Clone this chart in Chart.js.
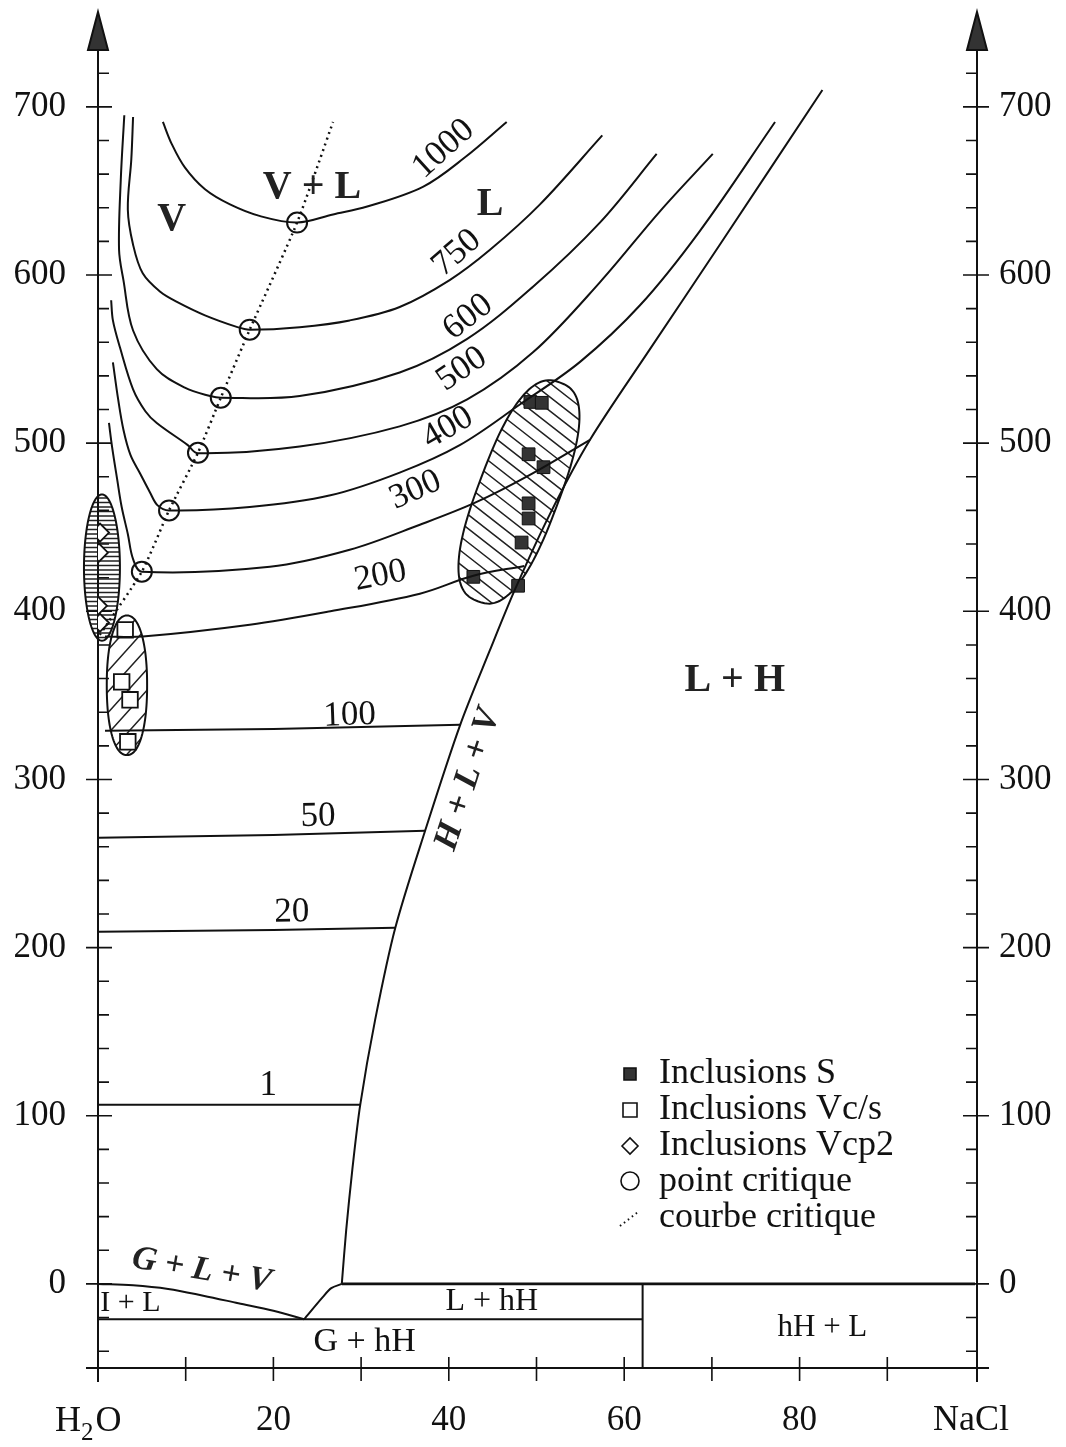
<!DOCTYPE html>
<html>
<head>
<meta charset="utf-8">
<script src="https://cdn.jsdelivr.net/npm/chart.js@4/dist/chart.umd.min.js"></script>
<style>
  html, body { margin: 0; padding: 0; background: #fff; }
  canvas { display: block; }
</style>
</head>
<body>
<canvas id="phase" width="1066" height="1447"></canvas>
<script>
/* H2O - NaCl : isobares (bar), x = % pds NaCl, y = T (°C) */

const iso1000 = [[7.4,691],[8.4,678],[9.9,664],[12.2,651],[15.05,642],[18.5,635],[22.7,631.2],[26.8,636],[30.7,640.7],[37.1,652.6],[41.85,670],[46.6,691]];
const iso750 = [[4.0,694],[3.8,669],[3.4,639],[4.0,618],[5.1,601],[7.1,590],[9.0,584],[12.2,576],[15.9,569],[17.3,567.5],[23.0,569],[28.7,573],[34.4,581],[40.1,597],[44.7,615],[50.4,642],[57.5,683]];
const iso600 = [[3.0,695],[2.6,657],[2.4,615],[2.9,597],[4.0,567],[6.7,544],[9.9,533],[12.8,528],[14.0,527],[23.0,528],[34.4,542],[42.1,562],[49.6,593],[57.2,631],[63.7,672]];
const iso500 = [[1.5,585],[1.7,573],[2.5,557],[4.0,532],[5.4,519],[6.7,512],[10.2,499],[11.4,494],[23.0,498],[34.4,510],[42.1,526],[49.6,554],[57.2,595.5],[64.1,638],[70.1,672]];
const iso400 = [[1.7,548],[2.3,526],[2.9,508],[3.7,493],[4.8,482],[5.9,471],[6.8,463],[8.1,460],[17.3,462],[26.5,469],[34.4,482.5],[41.3,499],[48.1,523],[55.0,548.5],[61.8,582],[68.6,626],[77.2,691]];
const iso300 = [[1.25,512],[1.6,498],[2.2,478],[2.7,462],[3.4,446],[4.0,431],[5.0,423.6],[19.6,426.5],[28.7,436.6],[36.7,451.5],[43.0,464.6],[49.3,481.3],[56.1,502]];
const iso200 = [[0.8,385],[5.1,385],[17.3,392],[26.5,400],[36.7,410.5],[42.7,421],[48.6,427]];
const iso100 = [[0.8,329],[20.0,330],[41.3,332.5]];
const iso50 = [[0.1,265.3],[20.0,267],[37.3,269.5]];
const iso20 = [[0.1,209.4],[20.0,210.5],[33.9,211.8]];
const iso1 = [[0.1,106.5],[29.9,106.5]];

// courbe H + L + V (liquidus de la halite)
const liquidus = [[27.8,0],[28.3,32],[29.0,68],[29.9,106.5],[31.6,157],[33.9,211.8],[37.3,269.5],[41.3,332.5],[44.7,377],[47.55,413],[51.5,457.5],[56.1,502],[62.9,555.6],[70.9,618],[82.6,710]];

// équilibres de basse température
const glv = [[0,0],[4,-0.8],[8,-3],[12,-7],[16,-11.5],[20,-16],[23.5,-21]];
const hydrohalite = [[23.5,-21],[25.6,-8],[26.6,-2.5],[27.8,0]];
const eutectic = [[0,-21],[62.1,-21]];
const peritectic = [[27.8,0],[100,0]];
const hhVertical = [[62.1,0],[62.1,-50]];

// points critiques et courbe critique
const critPoints = [[5.0,423.6],[8.1,460],[11.4,494.3],[14.0,527],[17.3,567.5],[22.7,631.2]];
const critCurve = [[0.2,386],[5.0,423.6],[8.1,460],[11.4,494.3],[14.0,527],[17.3,567.5],[22.7,631.2],[26.8,691]];

// inclusions fluides
const inclS = [[49.3,524.5],[50.6,524],[49.1,493.4],[50.8,485.7],[49.1,464.2],[49.1,455.2],[48.3,440.9],[42.8,420.5],[47.9,415.2]];
const inclVcs = [[3.1,389],[2.7,358],[3.65,347.4],[3.4,322.4]];
const inclVcp2 = [[0.23,446.8],[0.11,434.9],[0.0,403.3],[0.23,393.2]];

// champs des inclusions : [x centre, y centre, demi-largeur (wt%), demi-hauteur (°C)]
const fieldVcp2 = [0.45, 426, 2.05, 43.5];
const fieldVcs = [3.3, 356, 2.3, 41.5];
// champ S incliné : extrémités de l'axe long puis demi-largeur (wt%)
const fieldS = [[52.7,536],[43.3,406],4.6];

// étiquettes
const isoLabels = [['1000',39.4,675,-42],['750',40.9,613,-41],['600',42.2,575,-38],['500',41.5,544,-34],['400',39.9,509,-30],['300',36.2,472,-24],['200',32.2,421,-11],['100',28.7,338,-2],['50',25.1,278,-1],['20',22.1,221,-1],['1',19.4,118,0]];
const regionLabels = [['V',8.4,633,0,'bold',40],['V + L',24.4,652,0,'bold',40],['L',44.7,642,0,'bold',40],['L + H',72.6,359,0,'bold',40],
  ['H + L + V',42.2,300,-72,'italic bold',35],['G + L + V',11.8,8,10,'italic bold',34],
  ['I + L',3.7,-11.3,0,'',30],['L + hH',44.9,-10.7,0,'',32],['G + hH',30.4,-34.5,0,'',34],['hH + L',82.6,-26,0,'',31]];
const yTicks = [0,100,200,300,400,500,600,700];
const xTicks = [20,40,60,80];
const legendLabels = ['Inclusions S','Inclusions Vc/s','Inclusions Vcp2','point critique','courbe critique'];

const SERIF = '"Liberation Serif", "DejaVu Serif", serif';
const pts = a => a.map(p => ({ x: p[0], y: p[1] }));

function line(data, extra) {
  return Object.assign({ data: pts(data), showLine: true, borderColor: '#111', borderWidth: 2, pointRadius: 0, tension: 0.35, fill: false }, extra || {});
}

const datasets = [
  line(iso1000), line(iso750), line(iso600), line(iso500), line(iso400), line(iso300),
  line(iso200), line(iso100, { tension: 0 }), line(iso50, { tension: 0 }), line(iso20, { tension: 0 }), line(iso1, { tension: 0 }),
  line(liquidus, { tension: 0.3 }),
  line(glv), line(hydrohalite, { tension: 0.3 }),
  line(eutectic, { tension: 0 }), line(peritectic, { tension: 0, borderWidth: 2.6 }), line(hhVertical, { tension: 0 }),
  line(critCurve, { borderDash: [2, 4], borderWidth: 2.5, tension: 0.2 }),
  { data: pts(critPoints), showLine: false, pointStyle: 'circle', pointRadius: 10, pointBorderWidth: 2, pointBackgroundColor: '#fff', pointBorderColor: '#111' },
  { data: pts(inclS), showLine: false, pointStyle: 'rect', pointRadius: 9, pointBorderWidth: 1, pointBackgroundColor: '#333', pointBorderColor: '#111' },
  { data: pts(inclVcs), showLine: false, pointStyle: 'rect', pointRadius: 11, pointBorderWidth: 1.8, pointBackgroundColor: '#fff', pointBorderColor: '#111' },
  { data: pts(inclVcp2), showLine: false, pointStyle: 'rectRot', pointRadius: 9, pointBorderWidth: 1.8, pointBackgroundColor: '#fff', pointBorderColor: '#111' }
];

function hatch(ctx, cx, cy, r, deg, gap) {
  const a = deg * Math.PI / 180, dx = Math.cos(a), dy = Math.sin(a);
  ctx.beginPath();
  for (let s = -r; s <= r; s += gap) {
    const ox = cx - dy * s, oy = cy + dx * s;
    ctx.moveTo(ox - dx * r, oy - dy * r);
    ctx.lineTo(ox + dx * r, oy + dy * r);
  }
  ctx.stroke();
}

// contour "capsule" (super-ellipse) autour d'un centre, en pixels
function capsule(ctx, cx, cy, a, b, ang, n) {
  ctx.beginPath();
  for (let i = 0; i <= 120; i++) {
    const t = i / 120 * 2 * Math.PI, c = Math.cos(t), s = Math.sin(t);
    const u = a * Math.sign(c) * Math.pow(Math.abs(c), 2 / n);
    const v = b * Math.sign(s) * Math.pow(Math.abs(s), 2 / n);
    const x = cx + u * Math.cos(ang) - v * Math.sin(ang);
    const y = cy + u * Math.sin(ang) + v * Math.cos(ang);
    i ? ctx.lineTo(x, y) : ctx.moveTo(x, y);
  }
  ctx.closePath();
}

function axisLines(chart) {
  const { ctx, scales: { x, y } } = chart;
  const xl = x.getPixelForValue(0), xr = x.getPixelForValue(100) + 2;
  const yb = y.getPixelForValue(-50), yt = y.getPixelForValue(y.max);
  ctx.save();
  ctx.strokeStyle = '#111';
  ctx.lineWidth = 2;
  ctx.beginPath();
  ctx.moveTo(xl, yb + 14); ctx.lineTo(xl, 20);
  ctx.moveTo(xr, yb + 14); ctx.lineTo(xr, 20);
  ctx.moveTo(xl - 12, yb); ctx.lineTo(xr + 12, yb);
  ctx.stroke();
  [xl, xr].forEach(ax => {
    ctx.beginPath();
    ctx.moveTo(ax, 12); ctx.lineTo(ax + 10, yt + 2); ctx.lineTo(ax - 10, yt + 2); ctx.closePath();
    ctx.fillStyle = '#333';
    ctx.fill();
    ctx.stroke();
  });
  ctx.lineWidth = 1.6;
  ctx.beginPath();
  for (let v = -40; v <= 720; v += 20) {
    const py = y.getPixelForValue(v);
    if (v % 100 === 0) {
      ctx.moveTo(xl - 12, py); ctx.lineTo(xl + 14, py);
      ctx.moveTo(xr - 14, py); ctx.lineTo(xr + 12, py);
    } else {
      ctx.moveTo(xl, py); ctx.lineTo(xl + 11, py);
      ctx.moveTo(xr - 11, py); ctx.lineTo(xr, py);
    }
  }
  for (let v = 10; v < 100; v += 10) {
    const pxv = x.getPixelForValue(v);
    ctx.moveTo(pxv, yb - 11); ctx.lineTo(pxv, yb + 13);
  }
  ctx.stroke();
  ctx.restore();
}

const fieldsPlugin = {
  id: 'fields',
  beforeDatasetsDraw(chart) {
    const { ctx, scales: { x, y } } = chart;
    const kx = x.getPixelForValue(1) - x.getPixelForValue(0);
    const ky = y.getPixelForValue(0) - y.getPixelForValue(1);
    const drawField = (cx, cy, a, b, ang, n, hDeg, gap) => {
      ctx.save();
      ctx.fillStyle = '#fff';
      capsule(ctx, cx, cy, a, b, ang, n);
      ctx.fill();
      ctx.clip();
      ctx.strokeStyle = '#222';
      ctx.lineWidth = 1.5;
      hatch(ctx, cx, cy, Math.max(a, b) + 10, hDeg, gap);
      ctx.restore();
      ctx.save();
      ctx.strokeStyle = '#111';
      ctx.lineWidth = 2;
      capsule(ctx, cx, cy, a, b, ang, n);
      ctx.stroke();
      ctx.restore();
    };
    // Vcp2 : hachures horizontales serrées
    drawField(x.getPixelForValue(fieldVcp2[0]), y.getPixelForValue(fieldVcp2[1]), fieldVcp2[2] * kx, fieldVcp2[3] * ky, 0, 2, 0, 4.5);
    // Vc/s : hachures obliques /
    drawField(x.getPixelForValue(fieldVcs[0]), y.getPixelForValue(fieldVcs[1]), fieldVcs[2] * kx, fieldVcs[3] * ky, 0, 2.2, -48, 14);
    // S : champ incliné, hachures \
    const p1 = [x.getPixelForValue(fieldS[0][0]), y.getPixelForValue(fieldS[0][1])];
    const p2 = [x.getPixelForValue(fieldS[1][0]), y.getPixelForValue(fieldS[1][1])];
    const len = Math.hypot(p2[0] - p1[0], p2[1] - p1[1]) / 2;
    const ang = Math.atan2(p2[1] - p1[1], p2[0] - p1[0]);
    drawField((p1[0] + p2[0]) / 2, (p1[1] + p2[1]) / 2, len, fieldS[2] * kx, ang, 2.6, 38, 11);
    axisLines(chart);
  }
};

const textPlugin = {
  id: 'texts',
  afterDraw(chart) {
    const { ctx, scales: { x, y } } = chart;
    const xl = x.getPixelForValue(0), xr = x.getPixelForValue(100) + 2;
    ctx.save();
    ctx.fillStyle = '#111';
    ctx.strokeStyle = '#111';

    // libellés des axes
    ctx.font = '35px ' + SERIF;
    ctx.textBaseline = 'middle';
    yTicks.forEach(v => {
      const py = y.getPixelForValue(v);
      ctx.textAlign = 'right';
      ctx.fillText(String(v), xl - 32, py);
      ctx.textAlign = 'left';
      ctx.fillText(String(v), xr + 22, py);
    });
    ctx.textAlign = 'center';
    ctx.textBaseline = 'alphabetic';
    xTicks.forEach(v => ctx.fillText(String(v), x.getPixelForValue(v), 1430));
    ctx.textAlign = 'left';
    ctx.font = '36px ' + SERIF;
    ctx.fillText('H', 55, 1431);
    const wH = ctx.measureText('H').width;
    ctx.font = '25px ' + SERIF;
    ctx.fillText('2', 55 + wH, 1440);
    const w2 = ctx.measureText('2').width;
    ctx.font = '36px ' + SERIF;
    ctx.fillText('O', 57 + wH + w2, 1431);
    ctx.textAlign = 'center';
    ctx.fillText('NaCl', x.getPixelForValue(100) - 4, 1430);

    // étiquettes des isobares
    ctx.font = '35px ' + SERIF;
    ctx.textBaseline = 'middle';
    isoLabels.forEach(([t, lx, ly, rot]) => {
      ctx.save();
      ctx.translate(x.getPixelForValue(lx), y.getPixelForValue(ly));
      ctx.rotate(rot * Math.PI / 180);
      ctx.fillText(t, 0, 0);
      ctx.restore();
    });
    // champs de phases
    regionLabels.forEach(([t, lx, ly, rot, st, sz]) => {
      ctx.save();
      ctx.font = (st ? st + ' ' : '') + sz + 'px ' + SERIF;
      ctx.fillStyle = st.indexOf('bold') >= 0 ? '#222' : '#111';
      ctx.translate(x.getPixelForValue(lx), y.getPixelForValue(ly));
      ctx.rotate(rot * Math.PI / 180);
      ctx.fillText(t, 0, 0);
      ctx.restore();
    });

    // légende
    const lx0 = 630, ly0 = 1074, dy = 36;
    ctx.font = '36px ' + SERIF;
    ctx.textAlign = 'left';
    ctx.lineWidth = 1.6;
    legendLabels.forEach((t, i) => {
      const cy = ly0 + i * dy;
      ctx.fillStyle = '#111';
      ctx.fillText(t, lx0 + 29, cy);
      ctx.beginPath();
      if (i === 0) { ctx.fillStyle = '#333'; ctx.rect(lx0 - 6, cy - 6, 12, 12); ctx.fill(); ctx.stroke(); }
      if (i === 1) { ctx.rect(lx0 - 7, cy - 7, 14, 14); ctx.stroke(); }
      if (i === 2) { ctx.moveTo(lx0 - 8, cy); ctx.lineTo(lx0, cy - 8); ctx.lineTo(lx0 + 8, cy); ctx.lineTo(lx0, cy + 8); ctx.closePath(); ctx.stroke(); }
      if (i === 3) { ctx.arc(lx0, cy - 1, 9, 0, 2 * Math.PI); ctx.stroke(); }
      if (i === 4) {
        ctx.setLineDash([1.5, 3.5]);
        ctx.lineWidth = 2;
        ctx.moveTo(lx0 - 10, cy + 8); ctx.lineTo(lx0 + 8, cy - 6); ctx.stroke();
        ctx.setLineDash([]);
      }
    });
    ctx.restore();
  }
};

new Chart(document.getElementById('phase'), {
  type: 'scatter',
  data: { datasets },
  options: {
    responsive: false,
    animation: false,
    layout: { padding: { left: 98, right: 91, top: 48, bottom: 79 } },
    scales: {
      x: { type: 'linear', min: 0, max: 100, display: false },
      y: { type: 'linear', min: -50, max: 735, display: false }
    },
    plugins: { legend: { display: false }, tooltip: { enabled: false } }
  },
  plugins: [fieldsPlugin, textPlugin]
});
</script>
</body>
</html>
